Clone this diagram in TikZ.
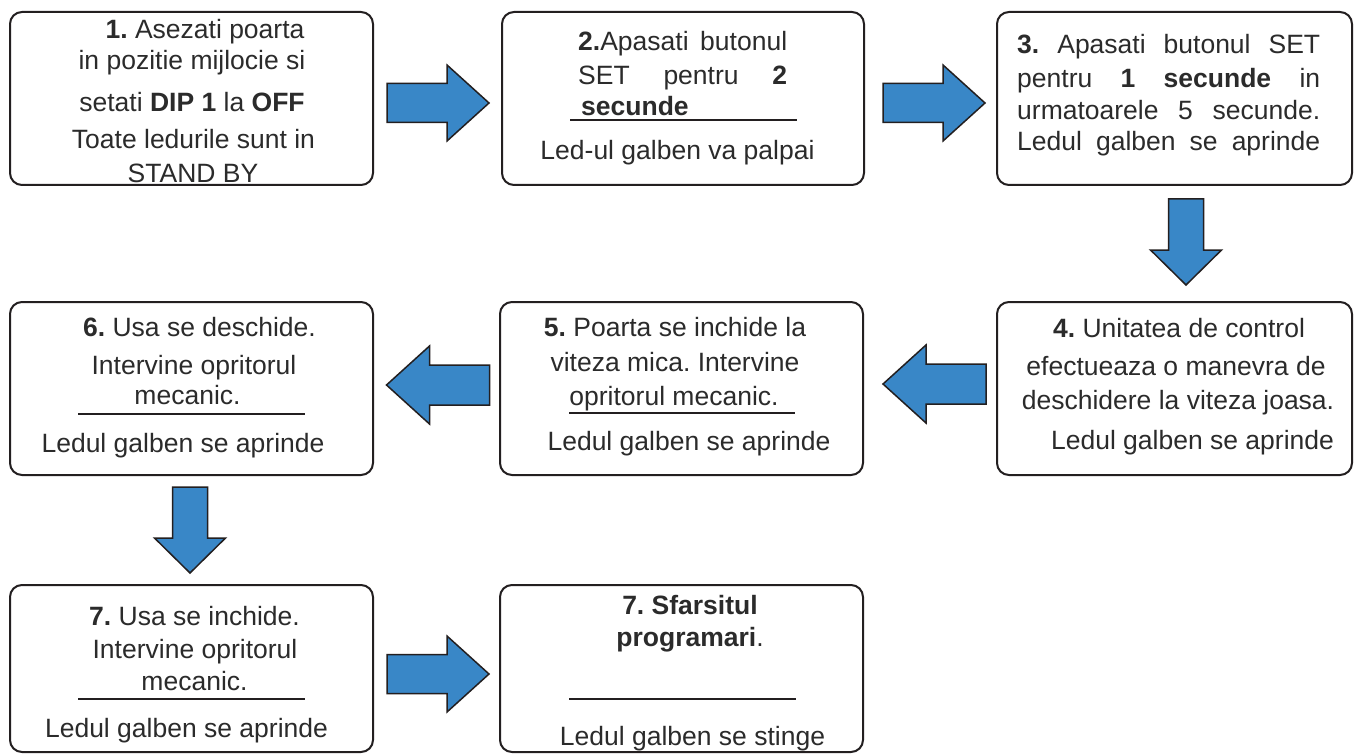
\documentclass[tikz,border=0pt]{standalone}
\usepackage{fontspec}
\setmainfont{Liberation Sans}
\usetikzlibrary{calc}
\definecolor{ink}{HTML}{2B2B2B}
\definecolor{frame}{HTML}{231F20}
\definecolor{flow}{HTML}{3987C7}
\frenchspacing
\begin{document}
\begin{tikzpicture}[x=1pt,y=-1pt,
  stepbox/.style={draw=frame, line width=2pt, rounded corners=12pt, fill=white, inner sep=0pt},
  txt/.style={anchor=base, inner sep=0pt, text=ink, font=\fontsize{26.5}{30}\selectfont},
  txtl/.style={txt, anchor=base west},
  rule/.style={draw=frame, line width=2.2pt},
  flowarrow/.style={fill=flow, draw=frame, line width=1.5pt, line join=miter},
  pics/arrowright/.style={code={
    \path[flowarrow] (-51,-19.5) -- (9,-19.5) -- (9,-38) -- (51,0) -- (9,38) -- (9,19.5) -- (-51,19.5) -- cycle;}},
  pics/arrowleft/.style={code={
    \path[flowarrow] (51,-20) -- (-9,-20) -- (-9,-39) -- (-52,0) -- (-9,39) -- (-9,20) -- (51,20) -- cycle;}},
  pics/arrowdown/.style={code={
    \path[flowarrow] (-17.5,-43) -- (17.5,-43) -- (17.5,8) -- (35.5,8) -- (0,43) -- (-35.5,8) -- (-17.5,8) -- cycle;}},
]
\useasboundingbox[fill=white] (0,0) rectangle (1354,754);

% step frames
\node[stepbox, minimum width=363pt, minimum height=173pt] (b1) at (191.5,98.5) {};
\node[stepbox, minimum width=362pt, minimum height=173pt] (b2) at (683,98.5) {};
\node[stepbox, minimum width=355pt, minimum height=173pt] (b3) at (1174.5,98.5) {};
\node[stepbox, minimum width=355pt, minimum height=173pt] (b4) at (1174.5,388.5) {};
\node[stepbox, minimum width=363pt, minimum height=173pt] (b5) at (681.5,388.5) {};
\node[stepbox, minimum width=363pt, minimum height=173pt] (b6) at (191.5,388.5) {};
\node[stepbox, minimum width=363pt, minimum height=167pt] (b7) at (191.5,668.5) {};
\node[stepbox, minimum width=363pt, minimum height=167pt] (b8) at (681.5,668.5) {};

% block arrows between the steps
\pic at ($(b1.east)!0.5!(b2.west)+(0.5,4.5)$) {arrowright};
\pic at ($(b2.east)!0.5!(b3.west)+(3.5,4.5)$) {arrowright};
\pic at ($(b3.south)!0.5!(b4.north)+(11.5,-1.5)$) {arrowdown};
\pic at ($(b4.west)!0.5!(b5.east)+(5,-4.5)$) {arrowleft};
\pic at ($(b5.west)!0.5!(b6.east)+(2,-3.5)$) {arrowleft};
\pic at ($(b6.south)!0.5!(b7.north)+(-1.5,0)$) {arrowdown};
\pic at ($(b7.east)!0.5!(b8.west)+(1.5,5.5)$) {arrowright};

% step 1
\node[txt] (t1a) at (205,39) {\textbf{1.} Asezati poarta};
\node[txt] (t1b) at (192,70) {in pozitie mijlocie si};
\node[txt] (t1c) at (192,112) {setati \textbf{DIP 1} la \textbf{OFF}};
\node[txt] (t1d) at (193.5,149) {Toate ledurile sunt in};
\node[txt] (t1e) at (193,183) {STAND BY};

% step 2
\node[txtl] (t2a) at (578,51) {\makebox[209pt][s]{\textbf{2.}Apasati butonul}};
\node[txtl] (t2b) at (578,85) {\makebox[209pt][s]{SET pentru \textbf{2}}};
\node[txtl] (t2c) at (581,116) {\textbf{secunde}};
\draw[rule] (570,120) -- (797,120);
\node[txt] (t2d) at (677.5,160) {Led-ul galben va palpai};

% step 3
\node[txtl] (t3a) at (1017,54) {\makebox[303pt][s]{\textbf{3.} Apasati butonul SET}};
\node[txtl] (t3b) at (1017,88) {\makebox[303pt][s]{pentru \textbf{1 secunde} in}};
\node[txtl] (t3c) at (1017,120) {\makebox[303pt][s]{urmatoarele 5 secunde.}};
\node[txtl] (t3d) at (1017,151) {\makebox[303pt][s]{Ledul galben se aprinde}};

% step 4
\node[txt] (t4a) at (1179,337) {\textbf{4.} Unitatea de control};
\node[txt] (t4b) at (1176,375) {efectueaza o manevra de};
\node[txt] (t4c) at (1178,409) {deschidere la viteza joasa.};
\node[txt] (t4d) at (1192.5,449) {Ledul galben se aprinde};

% step 5
\node[txt] (t5a) at (675,336) {\textbf{5.} Poarta se inchide la};
\node[txt] (t5b) at (675,371) {viteza mica. Intervine};
\node[txt] (t5c) at (674,405) {opritorul mecanic.};
\draw[rule] (569,413) -- (795,413);
\node[txt] (t5d) at (689,450) {Ledul galben se aprinde};

% step 6
\node[txt] (t6a) at (199.5,336) {\textbf{6.} Usa se deschide.};
\node[txt] (t6b) at (194,374) {Intervine opritorul};
\node[txt] (t6c) at (187.5,404) {mecanic.};
\draw[rule] (78,414) -- (305,414);
\node[txt] (t6d) at (183,452) {Ledul galben se aprinde};

% step 7
\node[txt] (t7a) at (194.5,625) {\textbf{7.} Usa se inchide.};
\node[txt] (t7b) at (195,658) {Intervine opritorul};
\node[txt] (t7c) at (194.5,690) {mecanic.};
\draw[rule] (78,699) -- (305,699);
\node[txt] (t7d) at (186.5,737) {Ledul galben se aprinde};

% end of programming
\node[txt] (t8a) at (690,614) {\textbf{7. Sfarsitul}};
\node[txt] (t8b) at (690,646) {\textbf{programari}.};
\draw[rule] (569,699) -- (796,699);
\node[txt] (t8c) at (692.5,745) {Ledul galben se stinge};
\end{tikzpicture}
\end{document}
